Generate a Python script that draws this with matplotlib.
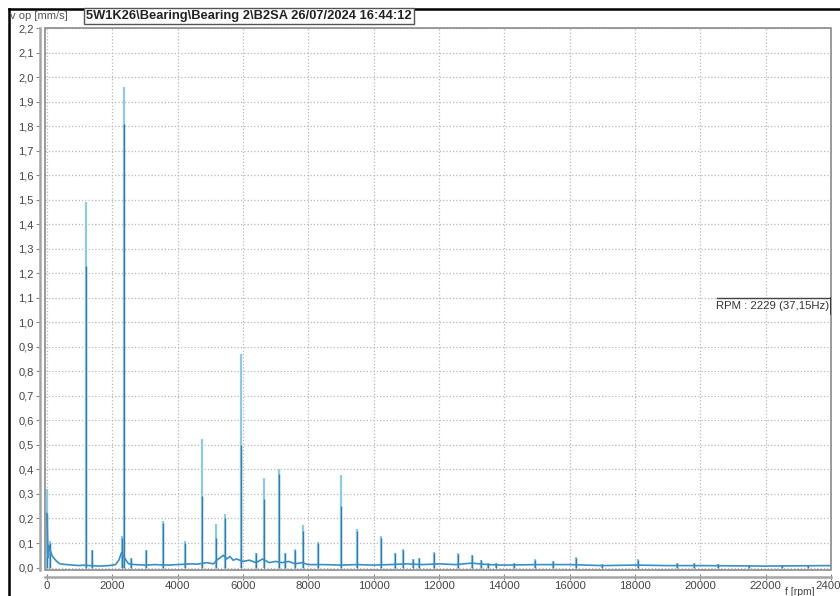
import matplotlib.pyplot as plt
from matplotlib.patches import Rectangle
from matplotlib.lines import Line2D

# spectrum peaks: rpm, top value (light trace), core value (dark trace)
peak_rpm = [0, 100, 1180, 1370, 2300, 2350, 2560, 3030, 3560, 4240, 4740, 5170,
            5450, 5940, 6400, 6650, 7090, 7300, 7580, 7850, 8300, 9010, 9490,
            10230, 10660, 10900, 11200, 11400, 11840, 12580, 13020, 13300, 13500,
            13750, 14300, 14950, 15500, 16200, 17000, 18100, 19300, 19800, 20550,
            21500, 22500, 23300]
peak_top = [0.32, 0.11, 1.49, 0.072, 0.13, 1.96, 0.04, 0.072, 0.188, 0.11, 0.525, 0.179,
            0.22, 0.87, 0.06, 0.365, 0.40, 0.06, 0.075, 0.175, 0.106, 0.376, 0.157,
            0.13, 0.06, 0.075, 0.035, 0.04, 0.065, 0.06, 0.05, 0.03, 0.02,
            0.02, 0.02, 0.035, 0.025, 0.045, 0.015, 0.035, 0.02, 0.02, 0.015,
            0.012, 0.012, 0.012]
peak_core = [0.22, 0.10, 1.23, 0.07, 0.12, 1.81, 0.04, 0.07, 0.18, 0.10, 0.29, 0.12,
             0.20, 0.50, 0.06, 0.28, 0.38, 0.06, 0.07, 0.15, 0.10, 0.25, 0.15,
             0.12, 0.06, 0.07, 0.035, 0.04, 0.06, 0.055, 0.05, 0.03, 0.02,
             0.02, 0.02, 0.03, 0.025, 0.04, 0.015, 0.03, 0.02, 0.02, 0.015,
             0.012, 0.012, 0.012]

# noise floor
floor_rpm = [0, 30, 60, 100, 150, 200, 300, 400, 600, 800, 1000, 1100, 1300, 1600,
             1900, 2100, 2200, 2280, 2420, 2500, 2700, 3000, 3300, 3700, 4000, 4400,
             4600, 4900, 5100, 5200, 5300, 5400, 5500, 5600, 5700, 5800, 6000, 6200,
             6400, 6600, 6800, 7000, 7200, 7400, 7600, 7800, 8000, 8500, 9000, 9500,
             10000, 10500, 11000, 11500, 12000, 12500, 13000, 13500, 14000, 15000,
             16000, 17000, 18000, 19000, 20000, 21000, 22000, 23000, 24000]
floor_amp = [0.22, 0.04, 0.09, 0.07, 0.05, 0.04, 0.025, 0.015, 0.012, 0.01, 0.008, 0.01,
             0.008, 0.006, 0.008, 0.012, 0.03, 0.06, 0.03, 0.015, 0.012, 0.01, 0.012,
             0.01, 0.012, 0.015, 0.014, 0.02, 0.015, 0.03, 0.04, 0.05, 0.035, 0.045,
             0.03, 0.035, 0.025, 0.03, 0.02, 0.035, 0.02, 0.025, 0.02, 0.025, 0.015,
             0.02, 0.012, 0.012, 0.01, 0.012, 0.01, 0.012, 0.015, 0.012, 0.015, 0.012,
             0.018, 0.012, 0.01, 0.012, 0.012, 0.008, 0.01, 0.008, 0.008, 0.007,
             0.006, 0.007, 0.008]

x_ticks = list(range(0, 24001, 2000))
y_ticks = [i / 10 for i in range(0, 23)]

title = "5W1K26\\Bearing\\Bearing 2\\B2SA 26/07/2024 16:44:12"
rpm_text = "RPM : 2229 (37,15Hz)"

plt.rcParams['font.family'] = ['Liberation Sans', 'DejaVu Sans']

fig = plt.figure(figsize=(8.4, 5.96), dpi=100)
ax = fig.add_axes([45 / 840, 1 - 570 / 596, 786 / 840, 542 / 596])

ax.set_xlim(-60, 24000)
ax.set_ylim(-0.01, 2.2)

# light trace then dark core
ax.vlines(peak_rpm, 0, peak_top, color='#8ccbe3', lw=1.6, zorder=3)
ax.vlines(peak_rpm, 0, peak_core, color='#2d7db3', lw=1.0, zorder=4)
ax.plot(floor_rpm, floor_amp, color='#3a8ec2', lw=1.2, zorder=4)

ax.set_xticks(x_ticks)
ax.set_yticks(y_ticks)
ax.set_yticklabels([f"{v:.1f}".replace('.', ',') for v in y_ticks])
ax.grid(True, color='#b8b8b8', ls=':', lw=0.9)
ax.set_axisbelow(True)

for side in ['top', 'right']:
    ax.spines[side].set_visible(False)
ax.spines['left'].set_position(('outward', 3.6))
ax.spines['bottom'].set_position(('outward', 5))
for side in ['left', 'bottom']:
    ax.spines[side].set_color('#a5a5a5')
    ax.spines[side].set_linewidth(1.8)
ax.tick_params(axis='y', direction='out', length=3, color='#888888',
               labelsize=8, labelcolor='#444444', pad=1.5)
ax.tick_params(axis='x', direction='inout', length=5, color='#888888',
               labelsize=8.2, labelcolor='#444444', pad=0.5)

# plot frame
ax.add_patch(Rectangle((0, 0), 1, 1, transform=ax.transAxes, fill=False,
                       ec='#8a8a8a', lw=1.2, clip_on=False, zorder=5))

# rpm marker label
ax.text(0.997, 0.488, rpm_text, transform=ax.transAxes, ha='right', va='center',
        fontsize=8.2, color='#333333', zorder=6)
ax.add_line(Line2D([0.855, 1.0], [0.502, 0.502], transform=ax.transAxes,
                   color='#444444', lw=1.0, zorder=6))
ax.add_line(Line2D([1.0, 1.0], [0.475, 0.502], transform=ax.transAxes,
                   color='#333333', lw=2.0, zorder=6))

# header texts
fig.text(10 / 840, 1 - 16 / 596, "v op [mm/s]", ha='left', va='center',
         fontsize=8, color='#555555')
fig.text(86 / 840, 1 - 16 / 596, title, ha='left', va='center', fontsize=9.3,
         fontweight='bold', color='#222222',
         bbox=dict(boxstyle='square,pad=0.15', fc='white', ec='#555555', lw=1.0))
fig.text(800 / 840, 1 - 592 / 596, "f [rpm]", ha='center', va='center',
         fontsize=7.5, color='#444444')

# outer black frame (top and left)
fig.add_artist(Line2D([9 / 840, 1], [1 - 9 / 596, 1 - 9 / 596],
                      transform=fig.transFigure, color='black', lw=1.8))
fig.add_artist(Line2D([9 / 840, 9 / 840], [0, 1 - 9 / 596],
                      transform=fig.transFigure, color='black', lw=1.8))

fig.savefig('out.png', dpi=100)
